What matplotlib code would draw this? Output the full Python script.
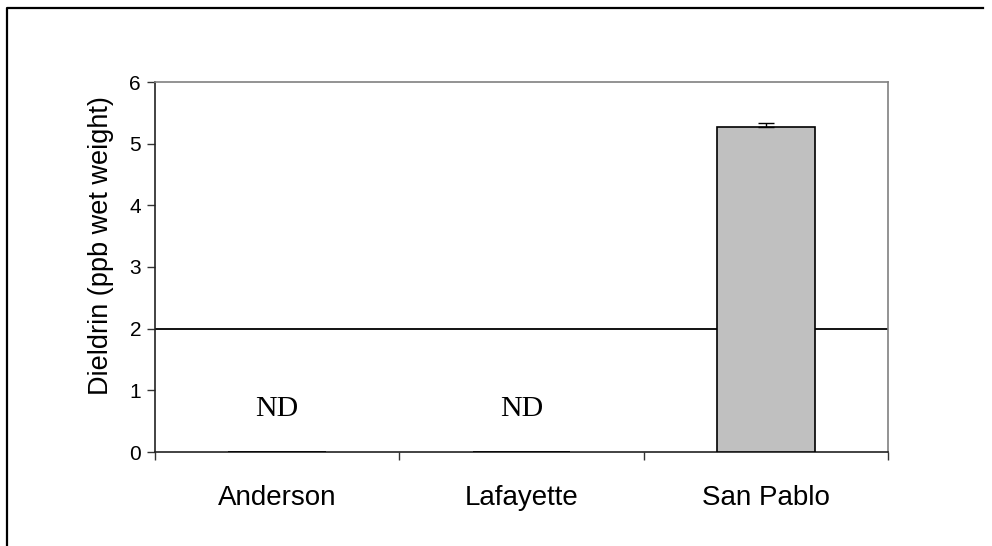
import matplotlib
matplotlib.use("Agg")
import matplotlib.pyplot as plt
from matplotlib.lines import Line2D

sites = ["Anderson", "Lafayette", "San Pablo"]
dieldrin = [0.0, 0.0, 5.27]
dieldrin_err = [0.0, 0.0, 0.06]
nd_flags = [True, True, False]
threshold = 2.0
yticks = [0, 1, 2, 3, 4, 5, 6]

plt.rcParams['font.family'] = ['Liberation Sans', 'DejaVu Sans']

fig = plt.figure(figsize=(9.92, 5.46), dpi=100)
ax = fig.add_axes([155/992, 1-452/546, (888-155)/992, (452-82)/546])

x = list(range(len(sites)))
ax.bar(x, dieldrin, width=0.4, color="#c0c0c0", edgecolor="black", linewidth=1.2, zorder=3)
ax.errorbar([x[2]], [dieldrin[2]], yerr=[[0], [dieldrin_err[2]]], fmt="none",
            ecolor="black", elinewidth=1.0, capsize=5.8, capthick=1.0, zorder=4)
ax.axhline(threshold, color="black", linewidth=1.3, zorder=2)

for xi, nd in zip(x, nd_flags):
    if nd:
        ax.text(xi, 0.7, "ND", ha="center", va="center", fontsize=21.5,
                family=["Liberation Serif", "DejaVu Serif"])

ax.set_xlim(-0.5, 2.5)
ax.set_ylim(0, 6)
ax.set_yticks(yticks)
ax.set_yticklabels([str(t) for t in yticks], fontsize=15)
ax.set_xticks(x)
ax.set_xticklabels(sites, fontsize=20)
ax.set_xticks([-0.5, 0.5, 1.5, 2.5], minor=True)
ax.tick_params(axis="x", which="major", length=0, pad=24)
ax.tick_params(axis="x", which="minor", length=6, width=1, color="#333333")
ax.tick_params(axis="y", length=6, width=1, color="#333333", pad=4)
ax.set_ylabel("Dieldrin (ppb wet weight)", fontsize=19.5)
ax.yaxis.set_label_coords(-0.056, 0.557)

for s in ["left", "bottom"]:
    ax.spines[s].set_color("#222222")
    ax.spines[s].set_linewidth(1.2)
for s in ["top", "right"]:
    ax.spines[s].set_color("#808080")
    ax.spines[s].set_linewidth(1.2)

# outer frame (top and left edges visible)
fig.add_artist(Line2D([7/992, 7/992, 983/992], [0, 1-8/546, 1-8/546],
                      transform=fig.transFigure, color="black", linewidth=1.6))

fig.savefig("out.png", dpi=100)
